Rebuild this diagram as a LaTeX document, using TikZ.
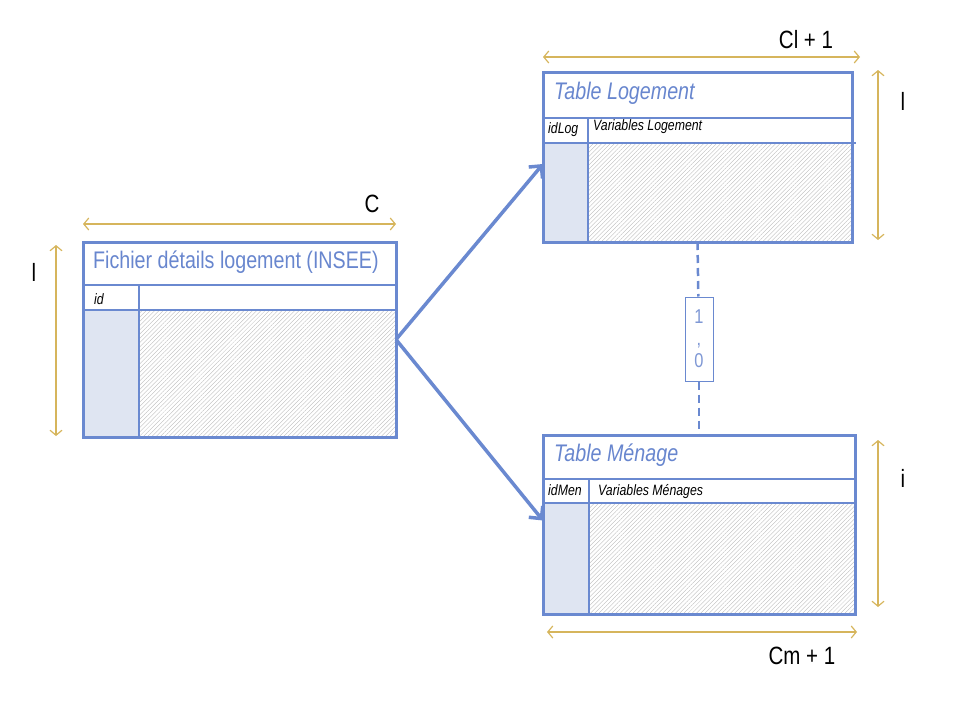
\documentclass[tikz,border=0pt]{standalone}
\usepackage{fontspec}
\setmainfont{Liberation Sans}[FakeStretch=0.82]
\usetikzlibrary{arrows.meta,patterns.meta}

\definecolor{tblblue}{RGB}{106,137,208}
\definecolor{ttlblue}{RGB}{104,134,206}
\definecolor{idfill}{RGB}{223,229,242}
\definecolor{gold}{RGB}{214,181,92}

\tikzstyle{frame}=[draw=tblblue, line width=3pt, anchor=north west, inner sep=0pt, outer sep=0pt]
\tikzstyle{rule}=[draw=tblblue, line width=1.3pt]
\tikzstyle{idcol}=[fill=idfill]
\tikzstyle{hatch}=[pattern={Lines[angle=45,distance=3pt,line width=0.35pt]}, pattern color=gray!55]
\tikzstyle{ttl}=[text=ttlblue, anchor=west, inner sep=0pt, font=\fontsize{24}{26}\selectfont]
\tikzstyle{hdr}=[anchor=west, inner sep=0pt, font=\fontsize{15}{17}\selectfont\itshape]
\tikzstyle{dim}=[draw=gold, line width=1.2pt, {Straight Barb[length=5pt,width=12pt]}-{Straight Barb[length=5pt,width=12pt]}]
\tikzstyle{dimlbl}=[inner sep=0pt, font=\fontsize{25}{27}\selectfont]
\tikzstyle{link}=[draw=tblblue, line width=3.5pt, -{Straight Barb[length=9pt,width=18pt]}]
\tikzstyle{rel}=[draw=tblblue, line width=2.5pt, dash pattern=on 8pt off 5pt]
\tikzstyle{card}=[draw=tblblue, fill=white, line width=1pt, minimum width=28pt, minimum height=84pt, inner sep=0pt,
  text=ttlblue!85, align=center, font=\fontsize{20}{22}\selectfont]

\begin{document}
\begin{tikzpicture}[x=1pt,y=-1pt]
\useasboundingbox (0,0) rectangle (960,720);
% Fichier details logement
\fill[idcol] (83,310) rectangle (139,437);
\fill[hatch] (139,310) rectangle (396,437);
\draw[rule] (83,285) -- (396,285); \draw[rule] (83,310) -- (396,310);
\draw[rule] (139,285) -- (139,437);
\draw (83,242) node[frame, minimum width=313pt, minimum height=195pt](fich){};
\draw (93,262) node[ttl](fichttl){Fichier détails logement (INSEE)};
\draw (94,299) node[hdr](fichid){id};
%
% Table Logement
\fill[idcol] (543,143) rectangle (588,242);
\fill[hatch] (588,143) rectangle (852,242);
\draw[rule] (543,118) -- (852,118); \draw[rule] (543,143) -- (856,143);
\draw[rule] (588,118) -- (588,242);
\draw (543,72) node[frame, minimum width=309pt, minimum height=170pt](log){};
\draw (554,93) node[ttl](logttl){\itshape Table Logement};
\draw (548,130) node[hdr](logid){idLog};
\draw (593,127) node[hdr](logvar){Variables Logement};
%
% Table Menage
\fill[idcol] (543,503) rectangle (589,614);
\fill[hatch] (589,503) rectangle (855,614);
\draw[rule] (543,479) -- (855,479); \draw[rule] (543,503) -- (855,503);
\draw[rule] (589,479) -- (589,614);
\draw (543,435) node[frame, minimum width=312pt, minimum height=179pt](men){};
\draw (554,455) node[ttl](menttl){\itshape Table Ménage};
\draw (548,490) node[hdr](menid){idMen};
\draw (598,492) node[hdr](menvar){Variables Ménages};
%
% links
\draw[link] (fich.east) -- ([yshift=-7pt]log.west);
\draw[link] (fich.east) -- ([yshift=4pt]men.west);
\draw (699,339) node[card](rel){1\\,\\0};
\draw[rel] (log.south) -- (rel); \draw[rel] (rel) -- (men.north);
%
% dimensions
\draw[dim] ([yshift=18pt]fich.north west) -- ([yshift=18pt]fich.north east);
\draw[dim] ([xshift=-27pt,yshift=-3pt]fich.north west) -- ([xshift=-27pt,yshift=1pt]fich.south west);
\draw (372,204) node[dimlbl](dimc){C};
\draw (34,272) node[dimlbl](diml){l};
\draw[dim] ([yshift=15pt]log.north west) -- ([xshift=8pt,yshift=15pt]log.north east);
\draw[dim] ([xshift=26pt,yshift=2pt]log.north east) -- ([xshift=26pt,yshift=2pt]log.south east);
\draw (806,40) node[dimlbl](dimcl){Cl + 1};
\draw (903,101) node[dimlbl](dimll){l};
\draw[dim] ([xshift=4pt,yshift=-18pt]men.south west) -- ([xshift=2pt,yshift=-18pt]men.south east);
\draw[dim] ([xshift=23pt,yshift=-5pt]men.north east) -- ([xshift=23pt,yshift=7pt]men.south east);
\draw (802,656) node[dimlbl](dimcm){Cm + 1};
\draw (903,478) node[dimlbl](dimi){i};
\end{tikzpicture}
\end{document}
